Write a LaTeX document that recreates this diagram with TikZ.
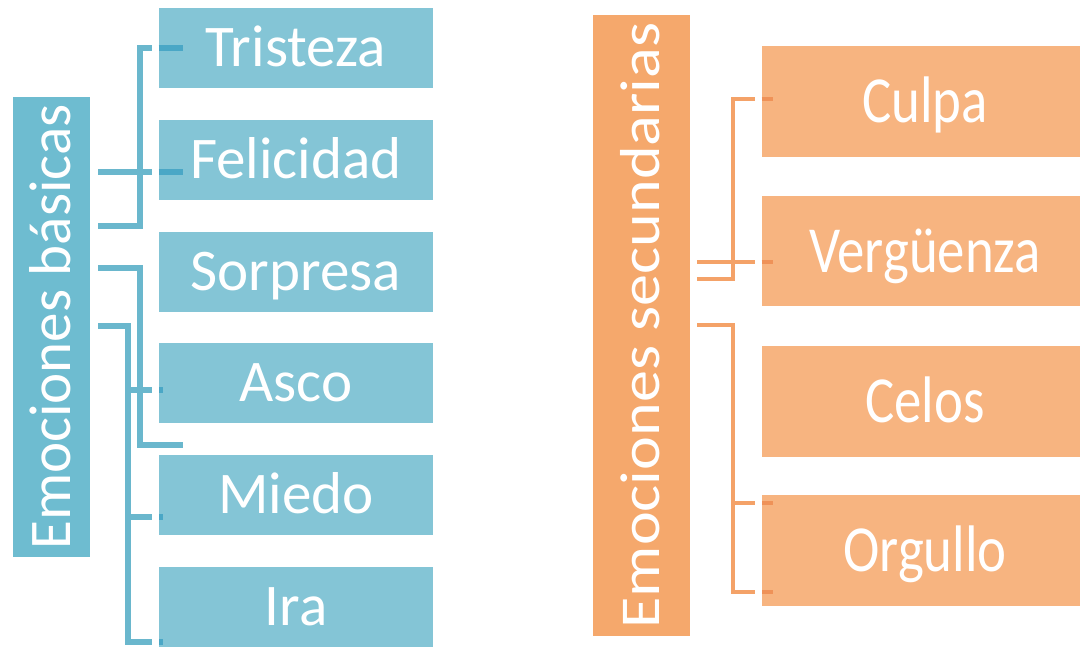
\documentclass[tikz,border=0pt]{standalone}
\usepackage{fontspec}
\setmainfont{Carlito}
\usetikzlibrary{positioning}
\definecolor{azulfuerte}{HTML}{6EBCD0}
\definecolor{azulclaro}{HTML}{84C5D6}
\definecolor{azullinea}{HTML}{6AB7CD}
\definecolor{azulmarca}{HTML}{4AA7C6}
\definecolor{narfuerte}{HTML}{F5A86C}
\definecolor{narclaro}{HTML}{F7B480}
\definecolor{narlinea}{HTML}{F4A268}
\definecolor{narmarca}{HTML}{EF9258}
\begin{document}
\begin{tikzpicture}[x=0.025cm,y=-0.025cm]
        \tikzstyle{grupo}=[rotate=90,inner sep=0pt,text=white,text depth=0pt]
        \tikzstyle{basica}=[fill=azulclaro,minimum width=6.85cm,minimum height=2.02cm,inner sep=0pt,text=white,text height=27pt,text depth=0pt,font=\fontsize{42}{42}\selectfont]
        \tikzstyle{secundaria}=[fill=narclaro,minimum width=8.15cm,minimum height=2.77cm,inner sep=0pt,text=white,text height=30pt,text depth=0pt,font=\fontsize{39}{39}\selectfont]
        \tikzstyle{linkB}=[draw=azullinea,line width=3.8pt]
        \tikzstyle{linkS}=[draw=narlinea,line width=3.2pt]
        \tikzstyle{tickB}=[draw=azulmarca,line width=3.8pt]
        \tikzstyle{tickS}=[draw=narmarca,line width=3.2pt]
        \useasboundingbox (0,0) rectangle (1080,646);
       \begin{scope}
         \node [grupo,fill=azulfuerte,minimum width=11.5cm,minimum height=1.925cm,text height=27pt,font=\fontsize{42}{42}\selectfont] (basicas) at (51.5,327) {Emociones básicas};
         \node [basica] (tristeza) at (296,48) {Tristeza};
         \node [basica] (felicidad) at (296,160) {Felicidad};
         \node [basica] (sorpresa) at (296,272) {Sorpresa};
         \node [basica] (asco) at (296,383) {Asco};
         \node [basica] (miedo) at (296,495) {Miedo};
         \node [basica] (ira) at (296,607) {Ira};

         \coordinate (ab1) at (98,172);
         \coordinate (ab2) at (98,226);
         \coordinate (ab3) at (98,268);
         \coordinate (ab4) at (98,326);
         \coordinate (vB1) at (140,0);
         \coordinate (vB2) at (128,0);
         \coordinate (pfel) at (felicidad.west |- ab1);
         \coordinate (pasc) at (159,390);
         \coordinate (pmie) at (159,517);
         \coordinate (pira) at (159,642);
         \coordinate (fin2) at (183,445);

         \path[linkB,shorten >=0.175cm] (ab2) -- (vB1 |- ab2) -- (vB1 |- tristeza.west) -- (tristeza.west);
         \path[linkB,shorten >=0.175cm] (ab1) -- (pfel);
         \path[linkB] (ab3) -- (vB1 |- ab3) -- (vB1 |- fin2) -- (fin2);
         \path[linkB,shorten >=0.175cm] (vB2 |- pasc) -- (pasc);
         \path[linkB,shorten >=0.175cm] (ab4) -- (vB2 |- ab4) -- (vB2 |- pira) -- (pira);
         \path[linkB,shorten >=0.175cm] (vB2 |- pmie) -- (pmie);
         \path[tickB] (tristeza.west) -- ++(24,0);
         \path[tickB] (pfel) -- ++(24,0);
         \path[tickB] (pasc) -- ++(4,0);
         \path[tickB] (pmie) -- ++(4,0);
         \path[tickB] (pira) -- ++(4,0);
        \end{scope}
       \begin{scope}
         \node [grupo,fill=narfuerte,minimum width=15.525cm,minimum height=2.425cm,text height=26pt,font=\fontsize{40}{40}\selectfont] (secundarias) at (641.5,325.5) {\scalebox{1.14}[1]{Emociones secundarias}};
         \node [secundaria] (culpa) at (925,101.5) {\scalebox{1}[1.2]{Culpa}};
         \node [secundaria] (verguenza) at (925,251) {\scalebox{1}[1.2]{Vergüenza}};
         \node [secundaria] (celos) at (925,401.5) {\scalebox{1}[1.2]{Celos}};
         \node [secundaria] (orgullo) at (925,550.5) {\scalebox{1}[1.2]{Orgullo}};

         \coordinate (as1) at (697,262);
         \coordinate (as2) at (697,279);
         \coordinate (as3) at (697,325);
         \coordinate (vS) at (733,0);
         \coordinate (pcul) at (culpa.west |- 0,99);
         \coordinate (pver) at (verguenza.west |- as1);
         \coordinate (porg1) at (762,503);
         \coordinate (porg2) at (762,592);

         \path[linkS,shorten >=0.175cm] (as2) -- (vS |- as2) -- (vS |- pcul) -- (pcul);
         \path[linkS,shorten >=0.175cm] (as1) -- (pver);
         \path[linkS,shorten >=0.175cm] (as3) -- (vS |- as3) -- (vS |- porg2) -- (porg2);
         \path[linkS,shorten >=0.175cm] (vS |- porg1) -- (porg1);
         \path[tickS] (pcul) -- ++(11,0);
         \path[tickS] (pver) -- ++(11,0);
         \path[tickS] (porg1) -- ++(11,0);
         \path[tickS] (porg2) -- ++(11,0);
        \end{scope}
      \end{tikzpicture}
\end{document}
